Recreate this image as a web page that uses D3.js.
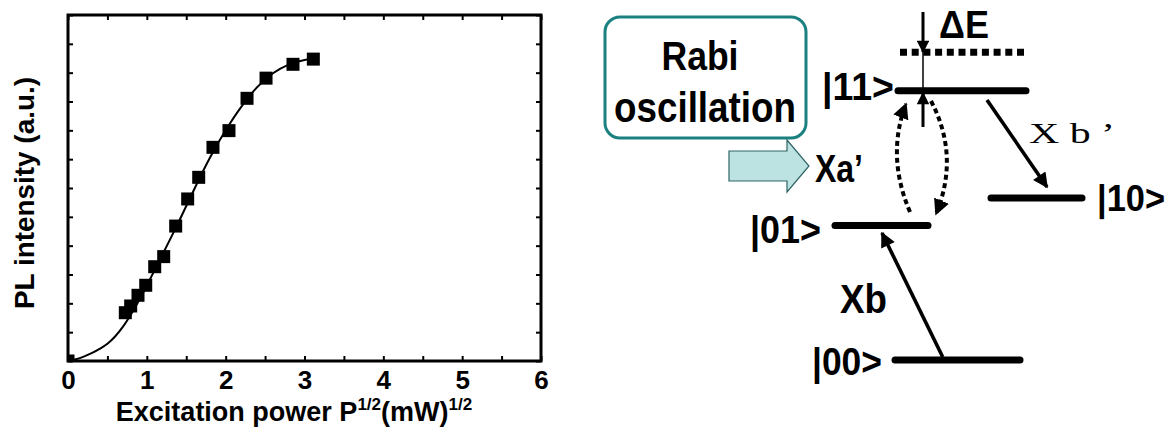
<!DOCTYPE html>
<html><head><meta charset="utf-8">
<script src="https://cdn.jsdelivr.net/npm/d3@7"></script>
<style>body{margin:0;background:#fff} svg{display:block}</style>
</head><body>
<script>
// ---- data ----
const markerX = [0, 0.727, 0.795, 0.888, 0.986, 1.10, 1.214, 1.366, 1.518, 1.658, 1.839, 2.042, 2.271, 2.512, 2.854, 3.112];
const markerY = [0, 1.675, 1.908, 2.279, 2.626, 3.27, 3.62, 4.68, 5.62, 6.37, 7.41, 7.99, 9.11, 9.81, 10.29, 10.47];
const fitX = [0, 0.1, 0.2, 0.3, 0.4, 0.5, 0.6, 0.7, 0.8, 0.9, 1.0, 1.2, 1.4, 1.6, 1.8, 2.0, 2.2, 2.4, 2.6, 2.8, 3.0, 3.12];
const fitY = [0, 0.06, 0.15, 0.27, 0.42, 0.6, 0.86, 1.2, 1.62, 2.1, 2.62, 3.7, 4.8, 5.95, 7.05, 8.0, 8.82, 9.5, 9.98, 10.28, 10.44, 10.48];
const xTickValues = [0, 1, 2, 3, 4, 5, 6];
const xTickLabels = ["0", "1", "2", "3", "4", "5", "6"];
const xMinorTicks = [0, 0.5, 1, 1.5, 2, 2.5, 3, 3.5, 4, 4.5, 5, 5.5, 6];
const yTicks = [0,1,2,3,4,5,6,7,8,9,10,11,12];
// energy diagram
const levelNames = ["|00>", "|01>", "|10>", "|11>"];
const levelEnergy = [0, 0.998, 1.204, 2.0];
const shiftedEnergy = 2.285;

const W = 1173, H = 432;
const svg = d3.select("body").append("svg").attr("width", W).attr("height", H);
const FONT = "'Liberation Sans', Arial, sans-serif";

// ---- left chart ----
const x = d3.scaleLinear().domain([0, 6]).range([68, 541]);
const y = d3.scaleLinear().domain([0, 12]).range([361, 15]);

const defs = svg.append("defs");
defs.append("clipPath").attr("id", "plotclip").append("rect")
  .attr("x", x(0)).attr("y", y(12)).attr("width", x(6) - x(0)).attr("height", y(0) - y(12));

const g = svg.append("g");
const axStyle = sel => { sel.select(".domain").remove(); sel.selectAll(".tick line").attr("stroke", "#000").attr("stroke-width", 2); };
g.append("g").attr("transform", `translate(0,${y(0)})`)
  .call(d3.axisBottom(x).tickValues(xMinorTicks).tickSize(-5).tickPadding(10)
    .tickFormat(d => { const i = xTickValues.indexOf(d); return i >= 0 ? xTickLabels[i] : ""; }))
  .call(axStyle)
  .selectAll("text").attr("font-family", FONT).attr("font-weight", "bold").attr("font-size", 26).attr("fill", "#000");
g.append("g").attr("transform", `translate(0,${y(12)})`)
  .call(d3.axisTop(x).tickValues(xMinorTicks).tickSize(-5).tickFormat("")).call(axStyle);
g.append("g").attr("transform", `translate(${x(0)},0)`)
  .call(d3.axisLeft(y).tickValues(yTicks).tickSize(-5).tickFormat("")).call(axStyle);
g.append("g").attr("transform", `translate(${x(6)},0)`)
  .call(d3.axisRight(y).tickValues(yTicks).tickSize(-5).tickFormat("")).call(axStyle);

const fit = fitX.map((v, i) => [v, fitY[i]]);
g.append("path").datum(fit)
  .attr("d", d3.line().x(d => x(d[0])).y(d => y(d[1])).curve(d3.curveCatmullRom))
  .attr("fill", "none").attr("stroke", "#000").attr("stroke-width", 2);

const pts = markerX.map((v, i) => [v, markerY[i]]);
const ms = 13;
g.append("g").attr("clip-path", "url(#plotclip)")
  .selectAll("rect").data(pts).join("rect")
  .attr("x", d => x(d[0]) - ms / 2).attr("y", d => y(d[1]) - ms / 2)
  .attr("width", ms).attr("height", ms).attr("fill", "#000");

g.append("rect").attr("x", x(0)).attr("y", y(12)).attr("width", x(6) - x(0)).attr("height", y(0) - y(12))
  .attr("fill", "none").attr("stroke", "#000").attr("stroke-width", 3);

// axis titles
const xt = g.append("text").attr("x", 294).attr("y", 421).attr("text-anchor", "middle")
  .attr("font-family", FONT).attr("font-weight", "bold").attr("font-size", 27).attr("fill", "#000");
xt.append("tspan").text("Excitation power P");
xt.append("tspan").attr("font-size", 17).attr("dy", -11).text("1/2");
xt.append("tspan").attr("dy", 11).text("(mW)");
xt.append("tspan").attr("font-size", 17).attr("dy", -11).text("1/2");

g.append("text").attr("transform", "translate(34,193) rotate(-90)").attr("text-anchor", "middle")
  .attr("font-family", FONT).attr("font-weight", "bold").attr("font-size", 27).attr("fill", "#000")
  .attr("textLength", 232).attr("lengthAdjust", "spacingAndGlyphs")
  .text("PL intensity (a.u.)");

// ---- right energy diagram ----
const e = d3.scaleLinear().domain([0, 2]).range([360, 90.7]);
const levelX = [[895, 1020], [835, 928], [991, 1082], [898, 1026]];
const d = svg.append("g");
defs.append("marker").attr("id", "ah").attr("viewBox", "0 0 10 10").attr("refX", 9).attr("refY", 5)
  .attr("markerWidth", 5).attr("markerHeight", 4.2).attr("orient", "auto").attr("markerUnits", "strokeWidth")
  .append("path").attr("d", "M0,0 L10,5 L0,10 Z").attr("fill", "#000");
defs.append("marker").attr("id", "ah2").attr("viewBox", "0 0 10 10").attr("refX", 9).attr("refY", 5)
  .attr("markerWidth", 4).attr("markerHeight", 4).attr("orient", "auto").attr("markerUnits", "strokeWidth")
  .append("path").attr("d", "M0,0 L10,5 L0,10 Z").attr("fill", "#000");

levelEnergy.forEach((E, i) => {
  d.append("line").attr("x1", levelX[i][0]).attr("x2", levelX[i][1]).attr("y1", e(E)).attr("y2", e(E))
    .attr("stroke", "#000").attr("stroke-width", 7).attr("stroke-linecap", "round");
});
// dotted shifted level
d.append("line").attr("x1", 900).attr("x2", 1025).attr("y1", e(shiftedEnergy)).attr("y2", e(shiftedEnergy))
  .attr("stroke", "#000").attr("stroke-width", 7).attr("stroke-dasharray", "7,4.7");

// level labels
const lab = (t, xx, yy, fs, w, opts = {}) => d.append("text").attr("x", xx).attr("y", yy)
  .attr("font-family", opts.family || FONT).attr("font-weight", opts.weight || "bold").attr("font-size", fs)
  .attr("fill", "#000").attr("textLength", w).attr("lengthAdjust", "spacingAndGlyphs").text(t);
lab(levelNames[0], 812, 375, 39, 70);
lab(levelNames[1], 750, 243, 39, 71);
lab(levelNames[2], 1097, 211, 36, 68);
lab(levelNames[3], 822, 100, 39, 72);

// Delta E arrows
d.append("line").attr("x1", 923).attr("x2", 923).attr("y1", 12).attr("y2", 52)
  .attr("stroke", "#000").attr("stroke-width", 3).attr("marker-end", "url(#ah)");
d.append("line").attr("x1", 923).attr("x2", 923).attr("y1", 52).attr("y2", 91).attr("stroke", "#000").attr("stroke-width", 1.5);
d.append("line").attr("x1", 923).attr("x2", 923).attr("y1", 127).attr("y2", 93)
  .attr("stroke", "#000").attr("stroke-width", 3).attr("marker-end", "url(#ah)");
lab("ΔE", 939, 38, 38, 50);

// Xb arrow
d.append("line").attr("x1", 942.7).attr("y1", 357).attr("x2", 882).attr("y2", 233)
  .attr("stroke", "#000").attr("stroke-width", 3.6).attr("marker-end", "url(#ah)");
lab("Xb", 840, 313, 41, 47);
// Xb' arrow
d.append("line").attr("x1", 987).attr("y1", 100).attr("x2", 1047).attr("y2", 187)
  .attr("stroke", "#000").attr("stroke-width", 3.6).attr("marker-end", "url(#ah)");
lab("X b ’", 1029, 143, 30, 86, { family: "'Liberation Serif', 'DejaVu Serif', serif", weight: "normal" });

// dotted curved arrows (Rabi)
d.append("path").attr("d", "M910,212 Q886,156 906,104").attr("fill", "none").attr("stroke", "#000")
  .attr("stroke-width", 4).attr("stroke-dasharray", "5,3.5").attr("marker-end", "url(#ah2)");
d.append("path").attr("d", "M931,101 Q960,156 936,214").attr("fill", "none").attr("stroke", "#000")
  .attr("stroke-width", 4).attr("stroke-dasharray", "5,3.5").attr("marker-end", "url(#ah2)");

// Rabi box
d.append("rect").attr("x", 605).attr("y", 17).attr("width", 201).attr("height", 121).attr("rx", 15)
  .attr("fill", "#fff").attr("stroke", "#1a8080").attr("stroke-width", 3);
d.append("text").attr("x", 700).attr("y", 70).attr("text-anchor", "middle").attr("font-family", FONT)
  .attr("font-weight", "bold").attr("font-size", 40).attr("textLength", 77).attr("lengthAdjust", "spacingAndGlyphs").text("Rabi");
d.append("text").attr("x", 705).attr("y", 122).attr("text-anchor", "middle").attr("font-family", FONT)
  .attr("font-weight", "bold").attr("font-size", 43).attr("textLength", 182).attr("lengthAdjust", "spacingAndGlyphs").text("oscillation");

// block arrow
d.append("path").attr("d", "M729,151 L787,151 L787,140 L809,166 L787,192 L787,181 L729,181 Z")
  .attr("fill", "#bde2e2").attr("stroke", "#2f6464").attr("stroke-width", 1.2);
lab("Xa’", 815, 182, 39, 48);
</script>
</body></html>
